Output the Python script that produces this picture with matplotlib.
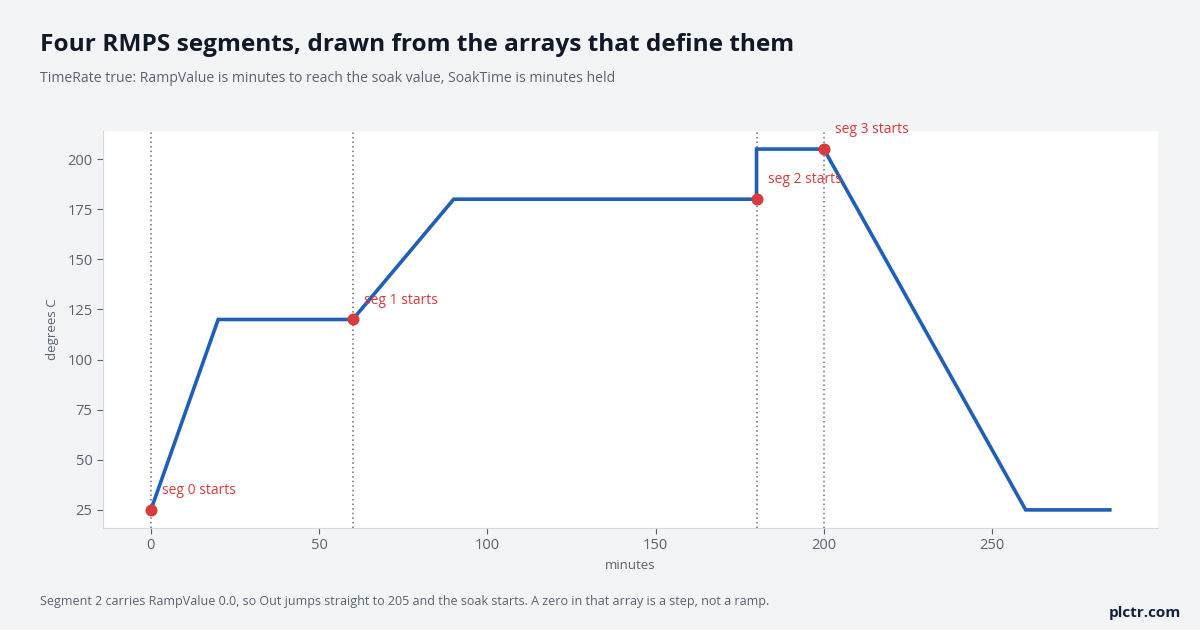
import numpy as np
import matplotlib
matplotlib.use("Agg")
import matplotlib.pyplot as plt

# RMPS segment arrays (TimeRate true)
start_value = 25
ramp_value = [20, 30, 0, 60]     # minutes to reach soak value
soak_value = [120, 180, 205, 25]  # degrees C
soak_time = [40, 90, 20, 25]      # minutes held
seg_labels = ["seg 0 starts", "seg 1 starts", "seg 2 starts", "seg 3 starts"]

# build the profile from the arrays
t = [0]
y = [start_value]
seg_t = []
seg_y = []
for rv, sv, st in zip(ramp_value, soak_value, soak_time):
    seg_t.append(t[-1])
    seg_y.append(y[-1])
    t.append(t[-1] + rv)
    y.append(sv)
    t.append(t[-1] + st)
    y.append(sv)

plt.rcParams['font.family'] = ['Open Sans', 'DejaVu Sans']

bg = '#f3f4f6'
fig = plt.figure(figsize=(12, 6.3), dpi=100, facecolor=bg)
ax = fig.add_axes([0.0858, 0.162, 0.879, 0.630])
ax.set_facecolor('white')

for st in seg_t:
    ax.axvline(st, color='#6b6f78', lw=1.1, ls=(0, (1, 2)), zorder=1)

ax.plot(t, y, color='#1f5fb8', lw=2.6, zorder=2, solid_joinstyle='miter')
ax.scatter(seg_t, seg_y, s=75, color='#d63c3c', zorder=3, linewidths=0)
for st, sy, lab in zip(seg_t, seg_y, seg_labels):
    ax.annotate(lab, (st, sy), xytext=(8, 14), textcoords='offset points',
                color='#d63c3c', fontsize=10, va='center', ha='left')

ax.margins(x=0.05, y=0.05)
ax.set_yticks([25, 50, 75, 100, 125, 150, 175, 200])
ax.set_xticks([0, 50, 100, 150, 200, 250])
for s in ['top', 'right']:
    ax.spines[s].set_visible(False)
for s in ['left', 'bottom']:
    ax.spines[s].set_color('#d5d8de')
ax.tick_params(colors='#5a6270', labelsize=10.5, length=4, color='#5a6270', width=0.8)
ax.set_xlabel('minutes', color='#5a6270', fontsize=9.5, labelpad=4)
ax.set_ylabel('degrees C', color='#5a6270', fontsize=9.5, labelpad=6)

fig.text(40 / 1200, 1 - 45 / 630, 'Four RMPS segments, drawn from the arrays that define them',
         fontsize=17.6, fontweight='bold', color='#111827', va='center', ha='left')
fig.text(40 / 1200, 1 - 79 / 630,
         'TimeRate true: RampValue is minutes to reach the soak value, SoakTime is minutes held',
         fontsize=10.1, color='#5a6270', va='center', ha='left')
fig.text(40 / 1200, 1 - 601 / 630,
         'Segment 2 carries RampValue 0.0, so Out jumps straight to 205 and the soak starts. A zero in that array is a step, not a ramp.',
         fontsize=9.0, color='#5a6270', va='center', ha='left')
fig.text(1181 / 1200, 1 - 613 / 630, 'plctr.com', fontsize=11, fontweight='bold',
         color='#14213d', va='center', ha='right')

fig.savefig('out.png', dpi=100, facecolor=bg)
